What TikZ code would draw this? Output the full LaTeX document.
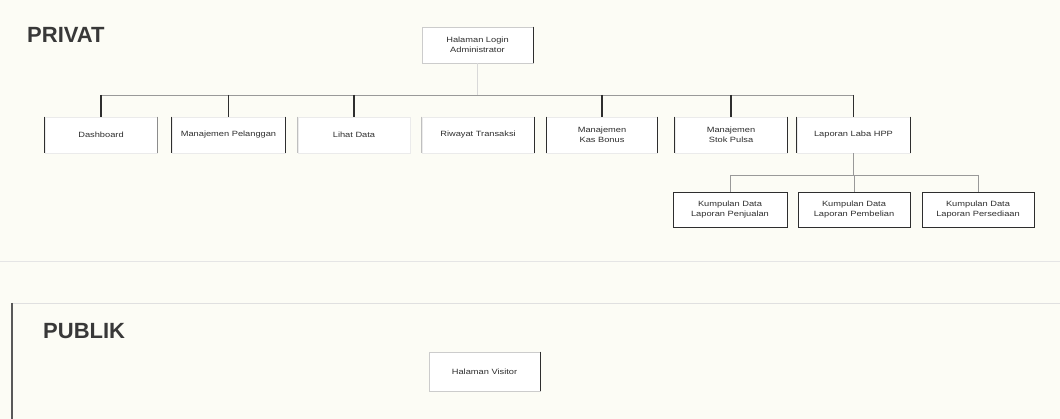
\documentclass[tikz,border=0pt]{standalone}
\usepackage{fontspec}
\setmainfont{Liberation Sans}
\newfontfamily\boxfont[FakeStretch=1.22]{Liberation Sans}
\definecolor{paper}{HTML}{FCFCF5}
\definecolor{ink}{HTML}{2E2E2E}
\begin{document}
\begin{tikzpicture}[x=1pt,y=-1pt,
  card/.style={draw=black!8, line width=0.6pt, fill=white, minimum width=112pt,
    minimum height=36pt, inner sep=2pt, align=center, text=ink,
    font=\boxfont\fontsize{7.6}{9.6}\selectfont},
  subcard/.style={card, draw=ink, line width=0.9pt, minimum height=35pt},
  side/.style={draw=ink, line width=1.1pt},
  bus/.style={draw=black!40, line width=0.7pt},
  tick/.style={draw=ink, line width=1.1pt},
  faint/.style={draw=black!15, line width=0.6pt},
  heading/.style={font=\fontsize{22}{24}\selectfont\bfseries, text=black!78, inner sep=0pt}]
% page
\fill[paper] (0,0) rectangle (1060,419);
\useasboundingbox (0,0) rectangle (1060,419);

% private area
\node[heading, anchor=north west] (privat) at (27,27) {PRIVAT};
\node[card, draw=black!20, minimum width=111pt] (login) at (477.5,45) {Halaman Login\\Administrator};

\node[card] (dash) at (101,135) {Dashboard};
\node[card, minimum width=113pt] (pel) at (228.5,135) {Manajemen Pelanggan};
\node[card] (lab) at (354,135) {Lihat Data};
\node[card] (riw) at (478,135) {Riwayat Transaksi};
\node[card, minimum width=111pt] (kas) at (602,135) {Manajemen\\Kas Bonus};
\node[card] (stok) at (731,135) {Manajemen\\Stok Pulsa};
\node[card, minimum width=113pt] (lap) at (853.5,135) {Laporan Laba HPP};

\node[subcard, minimum width=114pt] (s1) at (730,209.5) {Kumpulan Data\\Laporan Penjualan};
\node[subcard] (s2) at (854,209.5) {Kumpulan Data\\Laporan Pembelian};
\node[subcard] (s3) at (978,209.5) {Kumpulan Data\\Laporan Persediaan};

% dark box sides
\foreach \n in {pel,kas,stok,lap}{
  \draw[side] (\n.north west) -- (\n.south west);
  \draw[side] (\n.north east) -- (\n.south east);
}
\draw[side] (dash.north west) -- (dash.south west);
\draw[side, draw=black!45] (dash.north east) -- (dash.south east);
\draw[side, draw=black!25] (lab.north west) -- (lab.south west);
\draw[side] (riw.north east) -- (riw.south east);
\draw[side, draw=black!25] (riw.north west) -- (riw.south west);
\draw[side] (login.north east) -- (login.south east);

% connectors of the main level
\coordinate (busL) at (dash.north |- 0,95);
\coordinate (busR) at (lap.north |- 0,95);
\draw[faint] (login.south) -- (login.south |- busL);
\draw[bus] (busL) -- (busR);
\foreach \n in {dash,pel,lab,kas,stok,lap}
  \draw[tick] (\n.north |- busL) -- (\n.north);

% connectors of the report level
\coordinate (subL) at (s1.north |- 0,175);
\coordinate (subR) at (s3.north |- 0,175);
\draw[bus] (subL) -- (subR);
\draw[bus] (lap.south) -- (lap.south |- subL);
\foreach \n in {s1,s2,s3}
  \draw[bus] (\n.north |- subL) -- (\n.north);

% separator
\draw[draw=black!10, line width=0.8pt] (0,261) -- (1060,261);

% public area
\draw[draw=black!12, line width=0.8pt] (12,303) -- (1060,303);
\draw[draw=black!65, line width=1.1pt] (12,303) -- (12,419);
\node[heading, anchor=north west] (publik) at (43,323) {PUBLIK};
\node[card, draw=black!20, minimum width=111pt, minimum height=39pt] (visitor) at (484.5,371.5) {Halaman Visitor};
\draw[side] (visitor.north east) -- (visitor.south east);
\end{tikzpicture}
\end{document}
